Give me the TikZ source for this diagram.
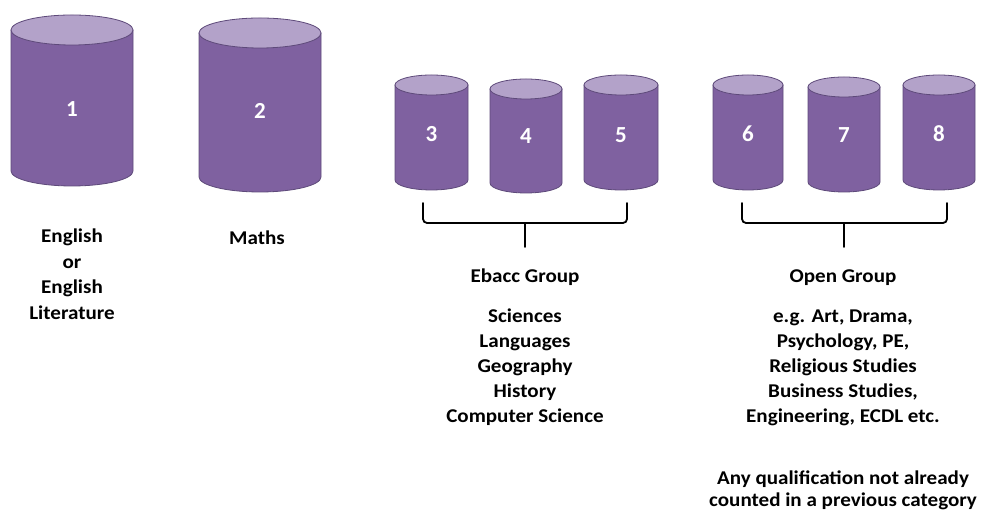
\documentclass[tikz,border=0pt]{standalone}
\usepackage{fontspec}
\setmainfont{Carlito}
\newfontfamily\lblfont{Carlito}[FakeStretch=1.08]
\begin{document}
\begin{tikzpicture}[x=1pt,y=1pt,
  body/.style={fill=cylbody,draw=cyledge,line width=0.8pt},
  lid/.style={fill=cyltop,draw=cyledge,line width=0.8pt},
  num/.style={text=white,font=\bfseries\fontsize{23}{26}\selectfont,inner sep=0pt},
  lbl/.style={align=center,font=\lblfont\bfseries\fontsize{19.5}{25}\selectfont,inner sep=0pt,anchor=base},
  brk/.style={line width=1.8pt,rounded corners=4pt,line cap=round}]
\definecolor{cylbody}{HTML}{7F61A0}
\definecolor{cyltop}{HTML}{B3A2C9}
\definecolor{cyledge}{HTML}{5E4A7A}
\useasboundingbox (0,0) rectangle (981,513);
\fill[white] (0,0) rectangle (981,513);
% \mycyl{name}{cx}{toppx}{botpx}{rx}{ry}{label}{labelypx}
\newcommand\mycyl[8]{%
  \pgfmathsetmacro\yA{513-(#3+#6)}%
  \pgfmathsetmacro\yB{513-(#4-#6)}%
  \pgfmathsetmacro\xL{#2-#5}%
  \pgfmathsetmacro\xR{#2+#5}%
  \pgfmathsetmacro\yN{513-#8}%
  \draw[body] (\xL,\yA) -- (\xL,\yB) arc[start angle=180,end angle=360,x radius=#5,y radius=#6] -- (\xR,\yA) -- cycle;
  \draw[lid] (#2,\yA) ellipse[x radius=#5,y radius=#6];
  \node[num] (#1) at (#2,\yN) {#7};
}
\mycyl{c1}{72}{15}{186}{61}{15}{1}{109}
\mycyl{c2}{260}{18}{192}{61}{15}{2}{111}
\mycyl{c3}{431.5}{75}{190}{36.5}{10}{3}{134}
\mycyl{c4}{526}{79}{193}{36}{10}{4}{136}
\mycyl{c5}{621}{75}{190}{37}{10}{5}{135}
\mycyl{c6}{748}{75}{190}{35}{10}{6}{134}
\mycyl{c7}{844}{77}{192}{36}{10}{7}{135}
\mycyl{c8}{939}{75}{190}{36}{10}{8}{134}
% brackets
\coordinate (e1) at (423,310);
\coordinate (e2) at (423,290);
\coordinate (e3) at (627,290);
\coordinate (e4) at (627,310);
\coordinate (em) at (525,290);
\coordinate (es) at (525,266);
\draw[brk] (e1) -- (e2) -- (e3) -- (e4);
\draw[brk] (em) -- (es);
\coordinate (o1) at (742,310);
\coordinate (o2) at (742,290);
\coordinate (o3) at (947,290);
\coordinate (o4) at (947,310);
\coordinate (om) at (844,290);
\coordinate (os) at (844,266);
\draw[brk] (o1) -- (o2) -- (o3) -- (o4);
\draw[brk] (om) -- (os);
% labels (base = baseline of last line)
\node[lbl,font=\lblfont\bfseries\fontsize{19.5}{25.5}\selectfont] (t1) at (72,193.5) {English\\or\\English\\Literature};
\node[lbl] (t2) at (257,268) {Maths};
\node[lbl] (t3) at (525,230) {Ebacc Group};
\node[lbl] (t4) at (525,90) {Sciences\\Languages\\Geography\\History\\Computer Science};
\node[lbl] (t5) at (843,230) {Open Group};
\node[lbl] (t6) at (843,90) {e.g. Art, Drama,\\Psychology, PE,\\Religious Studies\\Business Studies,\\Engineering, ECDL etc.};
\node[lbl,font=\lblfont\bfseries\fontsize{19.5}{22}\selectfont] (t7) at (843,6) {Any qualification not already\\counted in a previous category};
\end{tikzpicture}
\end{document}
